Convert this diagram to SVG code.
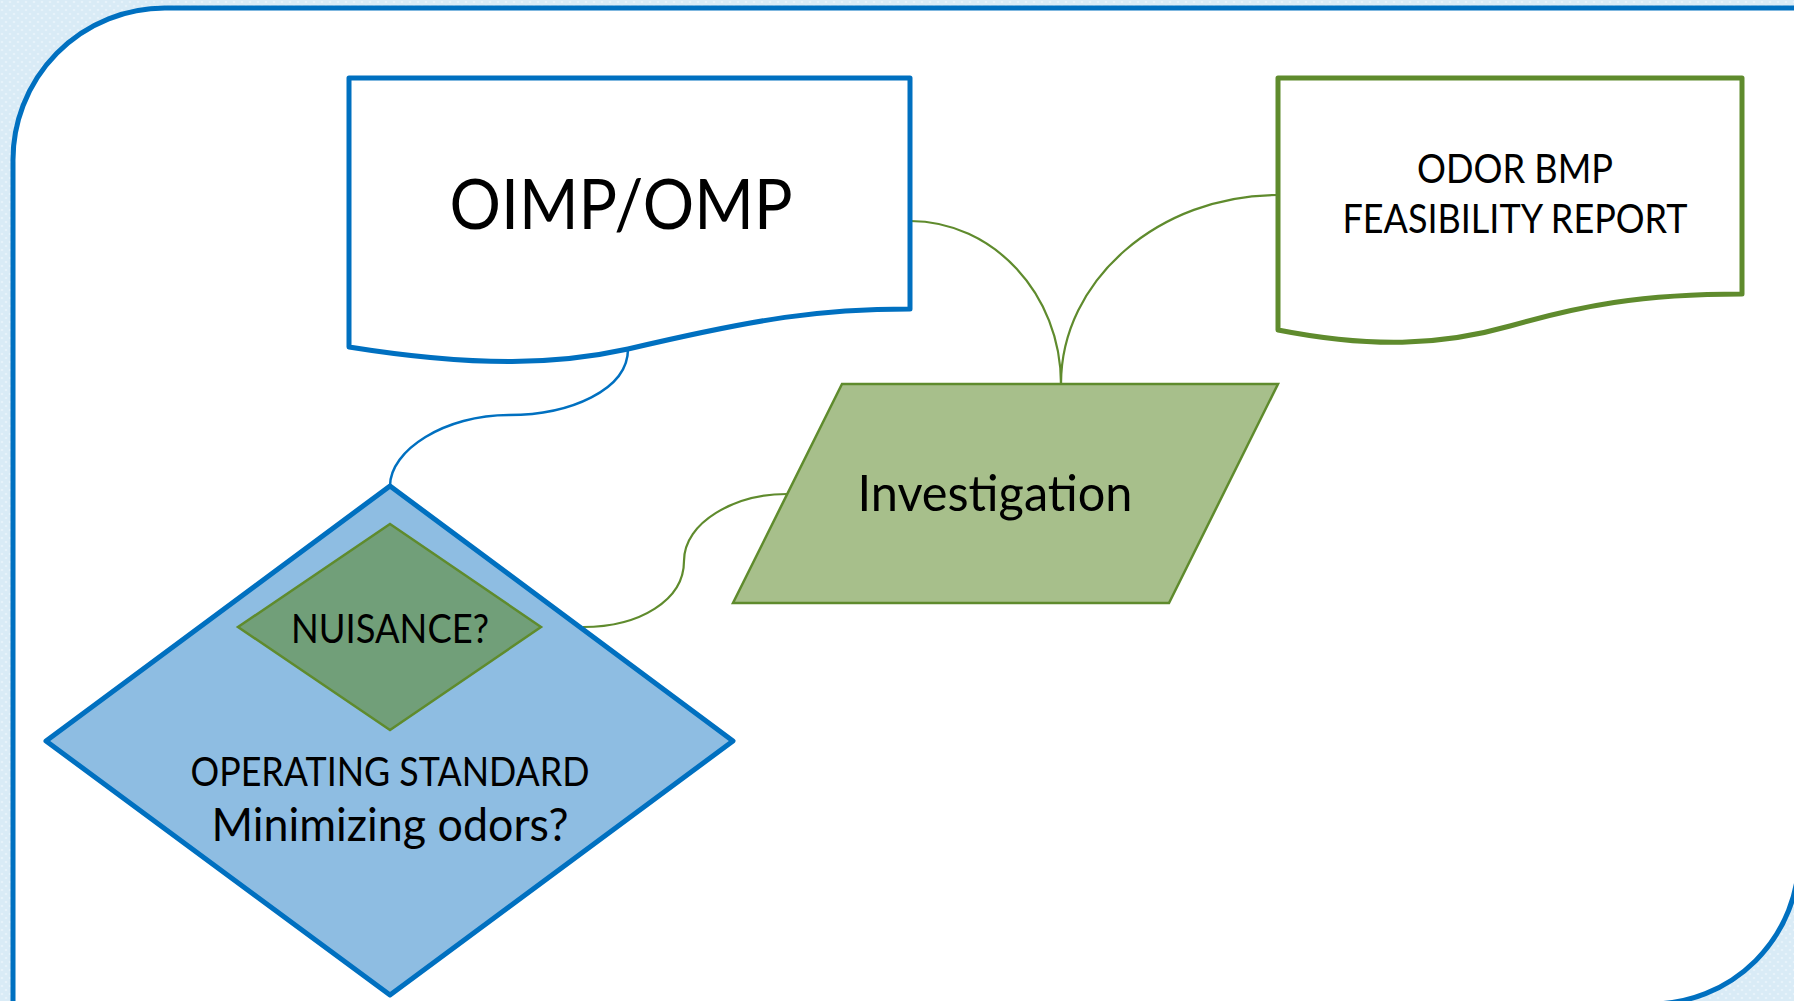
<svg xmlns="http://www.w3.org/2000/svg" width="1794" height="1001" viewBox="0 0 1794 1001">
<style>
.t{font-family:Lato,"Liberation Sans",sans-serif;fill:#000;text-anchor:middle}
.blue{fill:none;stroke:#0070c0;stroke-width:2.5}
.green{fill:none;stroke:#5f8b2d;stroke-width:2.2}
</style>
<defs>
<pattern id="dots" width="8" height="8" patternUnits="userSpaceOnUse">
<rect width="8" height="8" fill="#d9ebf6"/>
<circle cx="2" cy="2" r="1.3" fill="#e6f2fa"/>
<circle cx="6" cy="6" r="1.3" fill="#e6f2fa"/>
</pattern>
</defs>
<rect width="1794" height="1001" fill="url(#dots)"/>
<path id="frame" d="M13,162 A152,152 0 0 1 165,8 L1799,8 L1799,856 A148,148 0 0 1 1651,1004 L13,1004 Z" fill="#fff" stroke="#0070c0" stroke-width="5"/>
<g id="connectors">
<path class="blue" d="M628,349 C628,390 570,415 509,415 C445,415 390,450 390,486"/>
<path class="green" d="M910,221 C993,221 1061,294 1061,384"/>
<path class="green" d="M1278,195 C1159,195 1061,280 1061,384"/>
<path class="green" d="M583,627 C640,627 684,600 684,561 C684,522 735,494 787,494"/>
</g>
<g id="oimp">
<path d="M349,78 L910,78 L910,309 C820,309 760,318 628,349 C560,364 480,368 349,347 Z" fill="#fff" stroke="#0070c0" stroke-width="5" stroke-linejoin="round"/>
<text class="t" x="621" y="229" font-size="70" textLength="343" lengthAdjust="spacingAndGlyphs">OIMP/OMP</text>
</g>
<g id="odor">
<path d="M1278,78 L1742,78 L1742,294 C1640,294 1580,306 1510,326 C1440,346 1370,348 1278,330 Z" fill="#fff" stroke="#5f8b2d" stroke-width="5" stroke-linejoin="round"/>
<text class="t" x="1515" y="183" font-size="40" textLength="196" lengthAdjust="spacingAndGlyphs">ODOR BMP</text>
<text class="t" x="1515" y="233" font-size="40" textLength="345" lengthAdjust="spacingAndGlyphs">FEASIBILITY REPORT</text>
</g>
<g id="investigation">
<polygon points="842,384 1278,384 1169,603 733,603" fill="#a7bf8b" stroke="#5f8b2d" stroke-width="2.5"/>
<text class="t" x="995" y="511" font-size="50" textLength="275" lengthAdjust="spacingAndGlyphs">Investigation</text>
</g>
<g id="operating">
<polygon points="390,486 733,741 390,995 46,741" fill="#8ebde2" stroke="#0070c0" stroke-width="5" stroke-linejoin="round"/>
<text class="t" x="390" y="786" font-size="40" textLength="399" lengthAdjust="spacingAndGlyphs">OPERATING STANDARD</text>
<text class="t" x="390" y="841" font-size="46" textLength="357" lengthAdjust="spacingAndGlyphs">Minimizing odors?</text>
</g>
<g id="nuisance">
<polygon points="390,524 541,627 390,730 238,627" fill="#719f79" stroke="#5f8b2d" stroke-width="2.5"/>
<text class="t" x="390" y="643" font-size="40" textLength="198" lengthAdjust="spacingAndGlyphs">NUISANCE?</text>
</g>
</svg>
